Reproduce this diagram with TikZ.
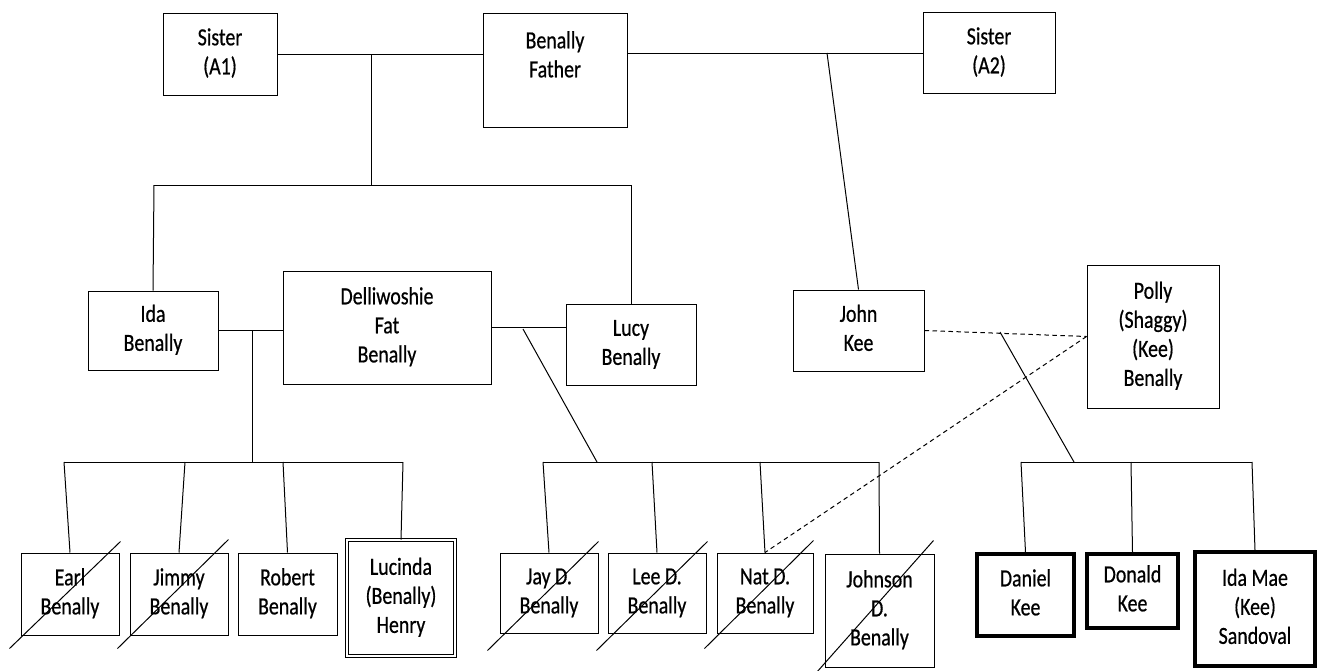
\documentclass[tikz,border=0pt]{standalone}
\usepackage{fontspec}
\setmainfont{Carlito}[FakeBold=0.7]
\usepackage{graphicx}
\usetikzlibrary{calc}
\newcommand{\tx}[1]{\scalebox{0.97}[1.2]{\fontsize{20.5}{24.2}\selectfont\begin{tabular}{@{}c@{}}#1\end{tabular}}}
\begin{document}
\begin{tikzpicture}[x=1pt,y=-1pt,
  every node/.style={align=center, inner sep=0pt},
  box/.style={draw, line width=1pt, rectangle},
  heavybox/.style={draw, line width=4pt, rectangle},
  dblbox/.style={draw, double, double distance=2pt, line width=0.9pt, rectangle},
  conn/.style={line width=1pt},
  dconn/.style={line width=1pt, dash pattern=on 4.5pt off 3.5pt},
  strike/.style={line width=1pt}]
\useasboundingbox (0,0) rectangle (1318,670);
\fill[white] (0,0) rectangle (1318,670);

% top generation
\node[box, minimum width=114, minimum height=82] (a1) at (220,54) {\tx{Sister\\(A1)}};
\node[box, minimum width=144, minimum height=114] (bf) at (555,70) {};
\node (bft) at (555,57) {\tx{Benally\\Father}};
\node[box, minimum width=132, minimum height=81] (a2) at (989,53) {\tx{Sister\\(A2)}};

% second generation
\node[box, minimum width=130, minimum height=79] (ida) at (153,330.5) {\tx{Ida\\Benally}};
\node[box, minimum width=208, minimum height=113] (del) at (387,327.5) {\tx{Delliwoshie\\Fat\\Benally}};
\node[box, minimum width=130, minimum height=81] (lucy) at (631,344.5) {\tx{Lucy\\Benally}};
\node[box, minimum width=131, minimum height=81] (john) at (858.5,330.5) {\tx{John\\Kee}};
\node[box, minimum width=132, minimum height=143] (polly) at (1153,336.5) {\tx{Polly\\(Shaggy)\\(Kee)\\Benally}};

% third generation
\node[box, minimum width=98, minimum height=82] (earl) at (70,594) {\tx{Earl\\Benally}};
\node[box, minimum width=98, minimum height=82] (jimmy) at (179,594) {\tx{Jimmy\\Benally}};
\node[box, minimum width=99, minimum height=82] (robert) at (287.5,594) {\tx{Robert\\Benally}};
\node[dblbox, minimum width=108, minimum height=116] (lucinda) at (401,598) {\tx{Lucinda\\(Benally)\\Henry}};

\node[box, minimum width=98, minimum height=80] (jay) at (549,593) {\tx{Jay D.\\Benally}};
\node[box, minimum width=98, minimum height=80] (lee) at (657,593) {\tx{Lee D.\\Benally}};
\node[box, minimum width=96, minimum height=80] (nat) at (765,593) {\tx{Nat D.\\Benally}};
\node[box, minimum width=109, minimum height=113] (johnson) at (879.5,610.5) {\tx{Johnson\\D.\\Benally}};

\node[heavybox, minimum width=97, minimum height=82] (daniel) at (1025.5,595) {\tx{Daniel\\Kee}};
\node[heavybox, minimum width=91, minimum height=74] (donald) at (1132.5,591) {\tx{Donald\\Kee}};
\node[heavybox, minimum width=120, minimum height=114] (idamae) at (1255,609) {\tx{Ida Mae\\(Kee)\\Sandoval}};

% junction coordinates
\coordinate (j1) at (371,54);
\coordinate (j1b) at (371,185);
\coordinate (s1) at (154,185);
\coordinate (s2) at (631,185);
\coordinate (j4) at (827,53);
\coordinate (j2) at (252,330);
\coordinate (j2b) at (252,462);
\coordinate (j3) at (523,329);
\coordinate (j3b) at (597,462);
\coordinate (j5) at (1000,332);
\coordinate (j5b) at (1074,462);

\coordinate (l1) at (64,462);
\coordinate (l2) at (185,462);
\coordinate (l3) at (283,462);
\coordinate (l4) at (403,462);
\coordinate (m1) at (543,462);
\coordinate (m2) at (652,462);
\coordinate (m3) at (760,462);
\coordinate (m4) at (879,462);
\coordinate (r1) at (1021,462);
\coordinate (r2) at (1131,462);
\coordinate (r3) at (1252,462);

% top connections
\draw[conn] (a1.east) -- (a1.east -| bf.west);
\draw[conn] (bf.east |- a2.west) -- (a2.west);
\draw[conn] (j1) -- (j1b);
\draw[conn] (s1) -- (s2);
\draw[conn] (s1) -- (ida.north);
\draw[conn] (s2) -- (lucy.north);
\draw[conn] (j4) -- (john.north);

% couples
\draw[conn] (ida.east) -- (ida.east -| del.west);
\draw[conn] (del.east) -- (del.east -| lucy.west);
\draw[dconn] (john.east) -- (polly.west);
\draw[dconn] (polly.west) -- (nat.north);

% descent lines
\draw[conn] (j2) -- (j2b);
\draw[conn] (j3) -- (j3b);
\draw[conn] (j5) -- (j5b);

% sibling bars
\draw[conn] (l1) -- (l4);
\draw[conn] (l1) -- (earl.north);
\draw[conn] (l2) -- (jimmy.north);
\draw[conn] (l3) -- (robert.north);
\draw[conn] (l4) -- (lucinda.north);

\draw[conn] (m1) -- (m4);
\draw[conn] (m1) -- (jay.north);
\draw[conn] (m2) -- (lee.north);
\draw[conn] (m3) -- (nat.north);
\draw[conn] (m4) -- (johnson.north);

\draw[conn] (r1) -- (r3);
\draw[conn] (r1) -- (daniel.north);
\draw[conn] (r2) -- (donald.north);
\draw[conn] (r3) -- (idamae.north);

% strike-throughs (deceased)
\draw[strike] ($(earl.south west)+(-11,13)$) -- ($(earl.north east)+(1,-11)$);
\draw[strike] ($(jimmy.south west)+(-12,13)$) -- ($(jimmy.north east)+(0,-13)$);
\draw[strike] ($(jay.south west)+(-12,17)$) -- ($(jay.north east)+(0,-11)$);
\draw[strike] ($(lee.south west)+(-11,17)$) -- ($(lee.north east)+(1,-11)$);
\draw[strike] ($(nat.south west)+(-12,15)$) -- ($(nat.north east)+(0,-12)$);
\draw[strike] ($(johnson.south west)+(-8,5)$) -- ($(johnson.north east)+(-1,-13)$);
\end{tikzpicture}
\end{document}
